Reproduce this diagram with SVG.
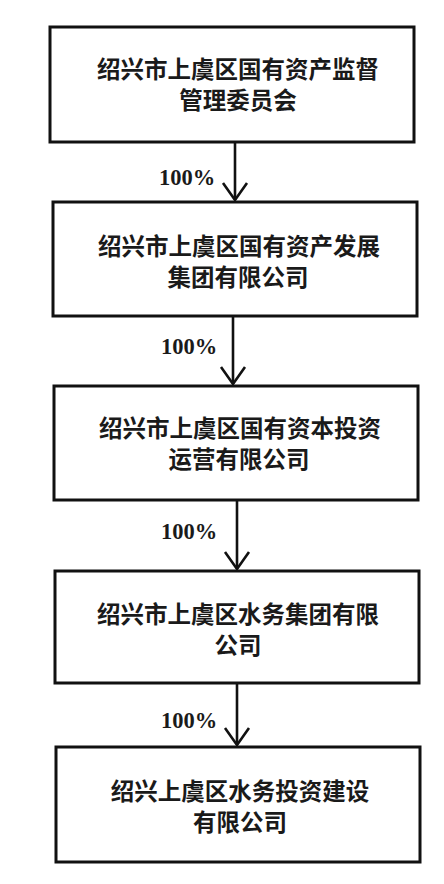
<svg xmlns="http://www.w3.org/2000/svg" width="444" height="884" viewBox="0 0 444 884">
  <style>
    .box { fill: #ffffff; stroke: #111111; stroke-width: 3; }
    .t { font-family: "Noto Sans CJK SC", "Noto Sans", sans-serif; font-size: 23.5px; font-weight: bold; fill: #1a1a1a; text-anchor: middle; dominant-baseline: central; }
    .lbl { font-family: "Liberation Serif", "DejaVu Serif", serif; font-size: 22.5px; font-weight: bold; fill: #1a1a1a; text-anchor: middle; dominant-baseline: central; }
    .edge { stroke: #111111; stroke-width: 2.6; fill: none; }
  </style>
  <defs>
    <marker id="vhead" viewBox="-20 -14 24 28" markerWidth="24" markerHeight="28" refX="0" refY="0" orient="auto" markerUnits="userSpaceOnUse">
      <path d="M-17,-12 L0,0 L-17,12" fill="none" stroke="#111111" stroke-width="2.6" stroke-linejoin="miter"/>
    </marker>
  </defs>
  <rect width="444" height="884" fill="#ffffff"/>

  <g id="connectors">
    <line class="edge" x1="235" y1="142" x2="235" y2="200" marker-end="url(#vhead)"/>
    <text class="lbl" x="187" y="177">100%</text>
    <line class="edge" x1="233" y1="316" x2="233" y2="384" marker-end="url(#vhead)"/>
    <text class="lbl" x="189" y="346">100%</text>
    <line class="edge" x1="237" y1="500" x2="237" y2="569" marker-end="url(#vhead)"/>
    <text class="lbl" x="189" y="531">100%</text>
    <line class="edge" x1="237" y1="683" x2="237" y2="745" marker-end="url(#vhead)"/>
    <text class="lbl" x="189" y="720">100%</text>
  </g>

  <g id="node1">
    <rect class="box" x="50" y="27" width="364" height="115"/>
    <text class="t" x="238" y="68">绍兴市上虞区国有资产监督</text>
    <text class="t" x="238" y="99">管理委员会</text>
  </g>
  <g id="node2">
    <rect class="box" x="53" y="202" width="364" height="114"/>
    <text class="t" x="239" y="245">绍兴市上虞区国有资产发展</text>
    <text class="t" x="238" y="276">集团有限公司</text>
  </g>
  <g id="node3">
    <rect class="box" x="54" y="386" width="364" height="114"/>
    <text class="t" x="240" y="427">绍兴市上虞区国有资本投资</text>
    <text class="t" x="239" y="458">运营有限公司</text>
  </g>
  <g id="node4">
    <rect class="box" x="55" y="571" width="364" height="112"/>
    <text class="t" x="238" y="613">绍兴市上虞区水务集团有限</text>
    <text class="t" x="238" y="644">公司</text>
  </g>
  <g id="node5">
    <rect class="box" x="56" y="747" width="364" height="115"/>
    <text class="t" x="240" y="790">绍兴上虞区水务投资建设</text>
    <text class="t" x="240" y="821">有限公司</text>
  </g>
</svg>
